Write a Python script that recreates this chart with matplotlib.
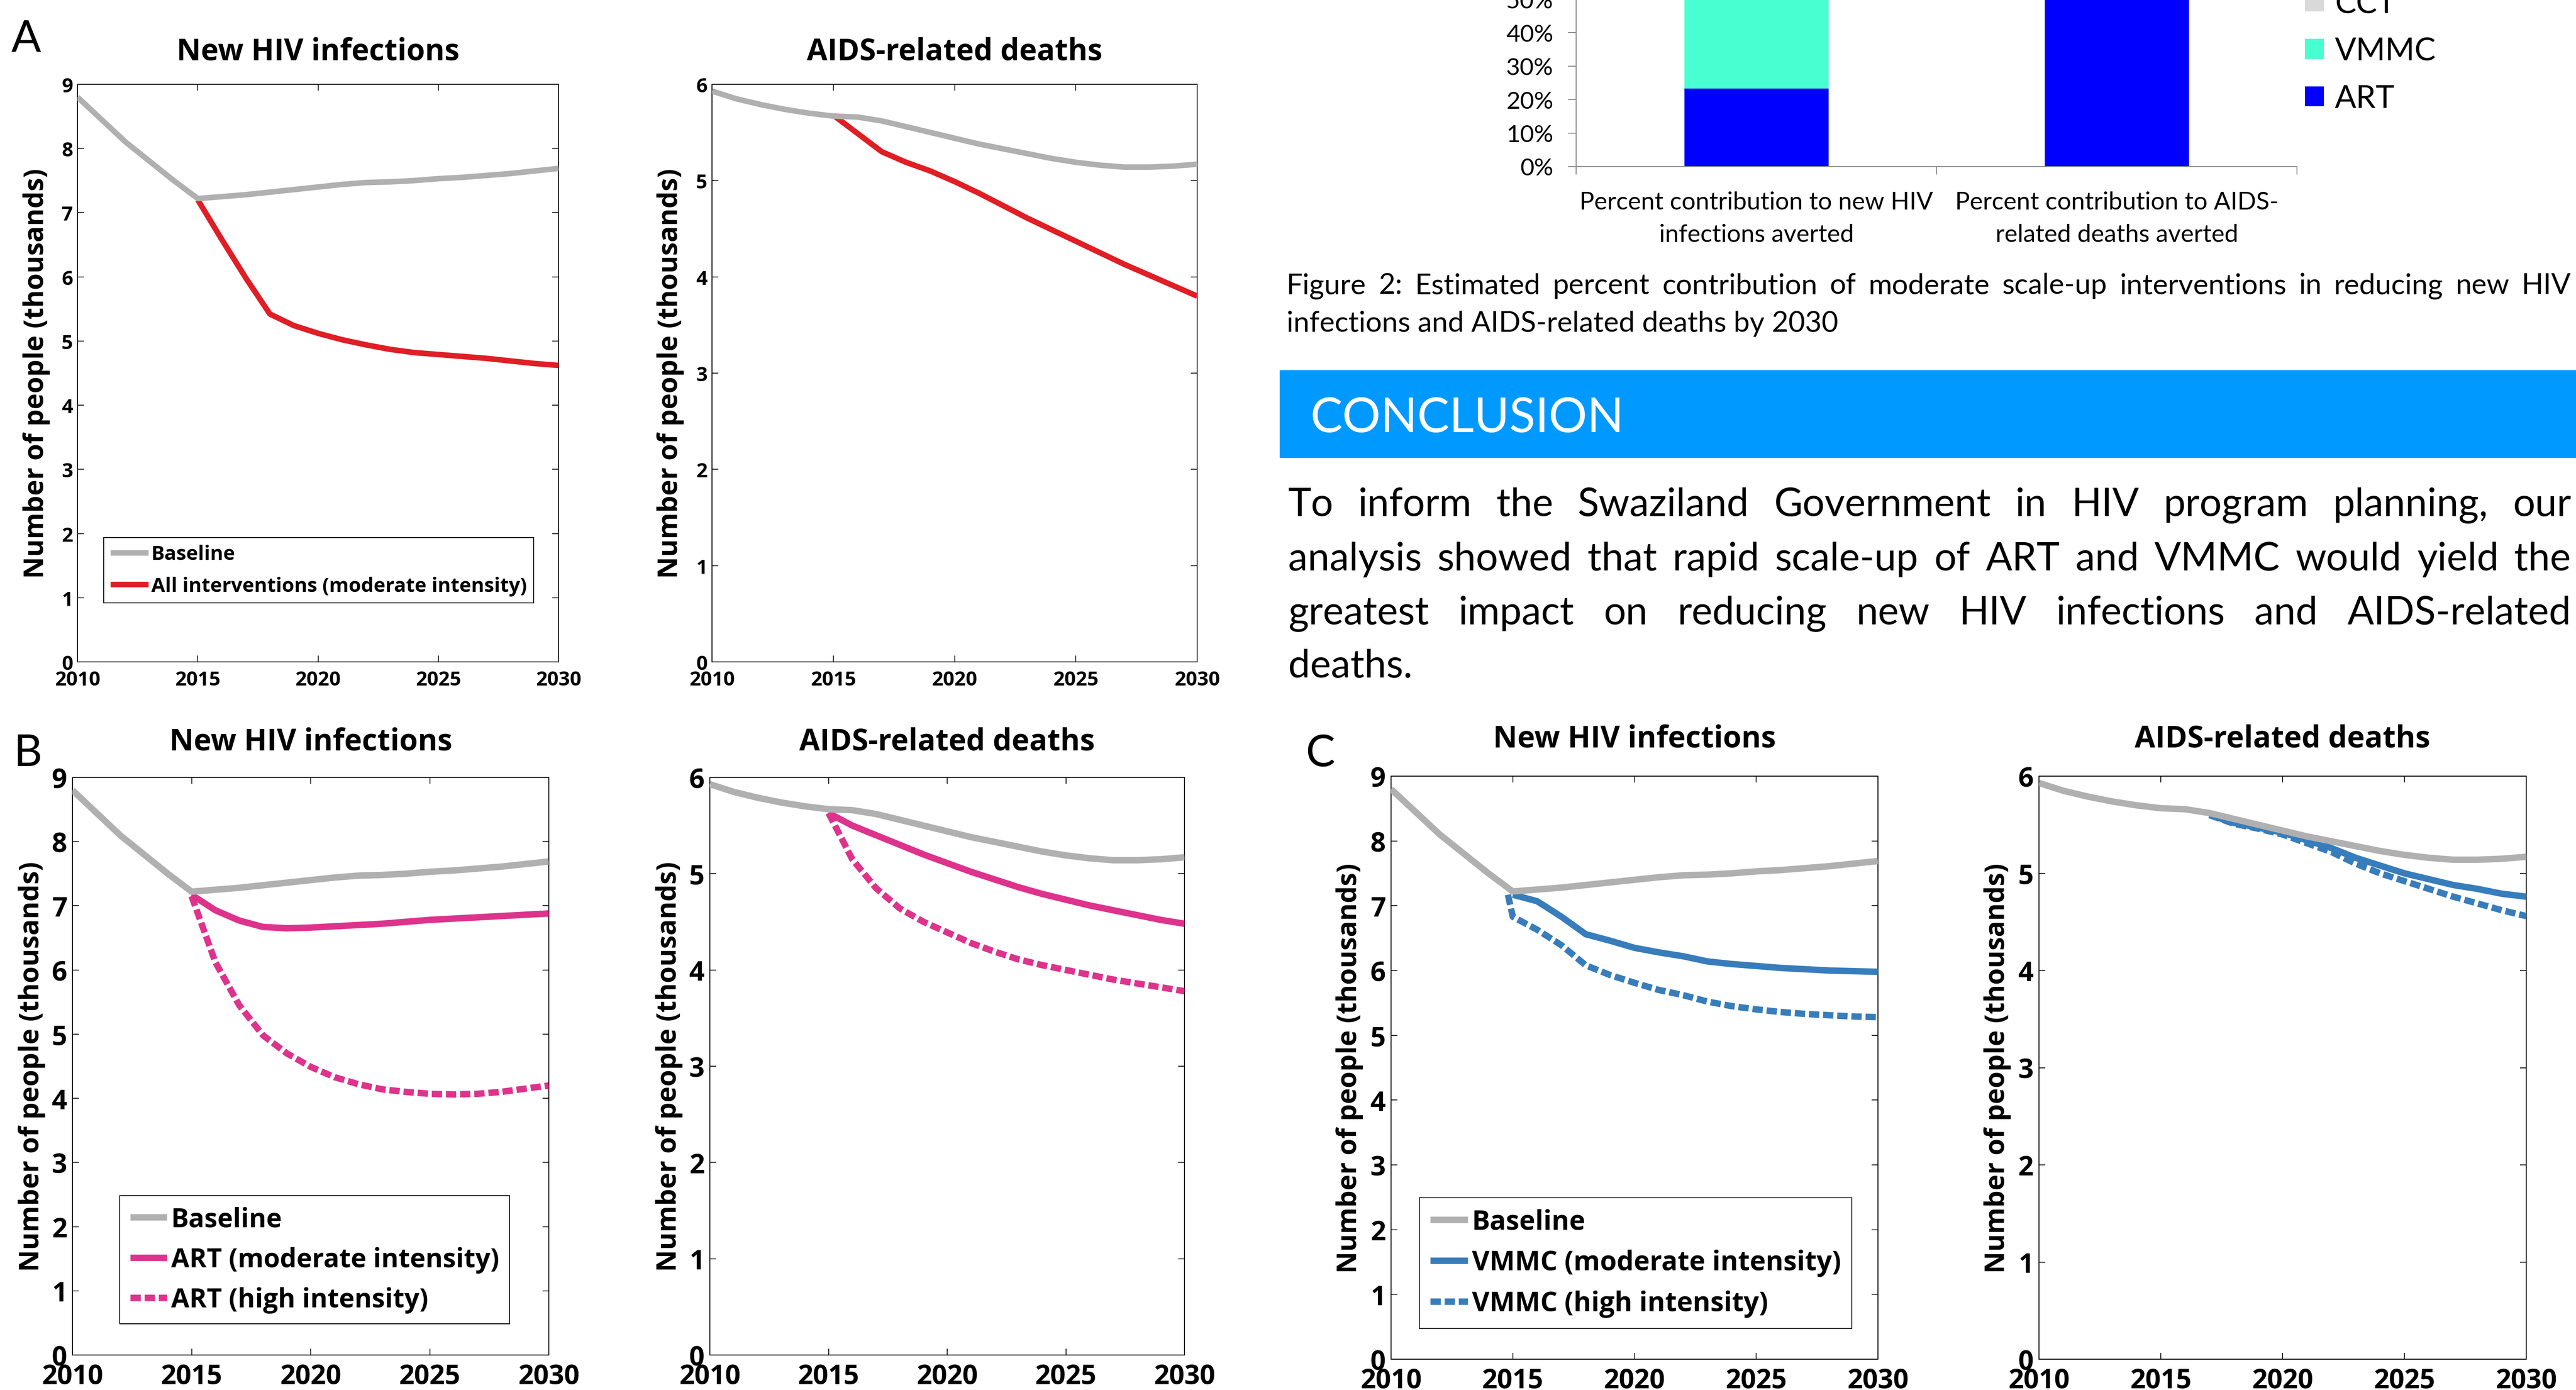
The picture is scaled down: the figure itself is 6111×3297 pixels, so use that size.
import numpy as np
import matplotlib
matplotlib.use("Agg")
import matplotlib.pyplot as plt
from matplotlib.patches import Rectangle
from matplotlib.ticker import PercentFormatter

W, H = 6111, 3298

# ==== Projection data (thousands of people) ====
years = np.arange(2010, 2031)
years_scaleup = np.arange(2015, 2031)
years_vmmc_high = np.concatenate([[2014.8], np.arange(2015, 2031)])
years_vmmc_deaths = np.arange(2017, 2031)

baseline_infections = [8.80, 8.45, 8.10, 7.80, 7.50, 7.22, 7.25, 7.28, 7.32, 7.36, 7.40,
                       7.44, 7.47, 7.48, 7.50, 7.53, 7.55, 7.58, 7.61, 7.65, 7.69]
baseline_deaths = [5.93, 5.85, 5.79, 5.74, 5.70, 5.67, 5.66, 5.62, 5.56, 5.50, 5.44,
                   5.38, 5.33, 5.28, 5.23, 5.19, 5.16, 5.14, 5.14, 5.15, 5.17]

all_moderate_infections = [7.20, 6.58, 5.98, 5.42, 5.24, 5.12, 5.02, 4.94, 4.87, 4.82,
                           4.79, 4.76, 4.73, 4.69, 4.65, 4.62]
all_moderate_deaths = [5.68, 5.49, 5.30, 5.19, 5.10, 4.99, 4.87, 4.74, 4.61, 4.49,
                       4.37, 4.25, 4.13, 4.02, 3.91, 3.80]

art_moderate_infections = [7.17, 6.93, 6.77, 6.67, 6.65, 6.66, 6.68, 6.70, 6.72, 6.75,
                           6.78, 6.80, 6.82, 6.84, 6.86, 6.88]
art_high_infections = [7.15, 6.12, 5.45, 4.98, 4.70, 4.49, 4.33, 4.22, 4.14, 4.10,
                       4.07, 4.06, 4.07, 4.10, 4.15, 4.20]
art_moderate_deaths = [5.63, 5.50, 5.40, 5.30, 5.20, 5.11, 5.02, 4.94, 4.86, 4.79,
                       4.73, 4.67, 4.62, 4.57, 4.52, 4.48]
art_high_deaths = [5.63, 5.15, 4.85, 4.64, 4.50, 4.39, 4.28, 4.19, 4.11, 4.05,
                   4.00, 3.95, 3.90, 3.86, 3.82, 3.78]

vmmc_moderate_infections = [7.17, 7.07, 6.83, 6.56, 6.46, 6.35, 6.28, 6.22, 6.14, 6.10,
                            6.07, 6.04, 6.02, 6.00, 5.99, 5.98]
vmmc_high_infections = [7.17, 6.83, 6.63, 6.39, 6.08, 5.93, 5.81, 5.70, 5.62, 5.52,
                        5.45, 5.40, 5.36, 5.33, 5.31, 5.29, 5.28]
vmmc_moderate_deaths = [5.60, 5.52, 5.47, 5.42, 5.34, 5.26, 5.16, 5.08, 5.00, 4.94,
                        4.88, 4.84, 4.79, 4.76]
vmmc_high_deaths = [5.60, 5.51, 5.46, 5.40, 5.31, 5.22, 5.10, 5.00, 4.92, 4.84,
                    4.76, 4.69, 4.62, 4.56]

# ==== Figure 2: share of averted outcomes ====
bar_categories = ["Percent contribution to new HIV\ninfections averted",
                  "Percent contribution to AIDS-\nrelated deaths averted"]
art_share = np.array([0.233, 0.93])
vmmc_share = np.array([0.62, 0.05])
cct_share = np.array([0.147, 0.02])

caption_lines = ["Figure 2: Estimated percent contribution of moderate scale-up interventions in reducing new HIV",
                 "infections and AIDS-related deaths by 2030"]
conclusion_lines = ["To inform the Swaziland Government in HIV program planning, our",
                    "analysis showed that rapid scale-up of ART and VMMC would yield the",
                    "greatest impact on reducing new HIV infections and AIDS-related",
                    "deaths."]

GRAY = "#b0b0b0"
RED = "#e01e25"
PINK = "#de338c"
BLUE = "#387dbb"
DASH = (0, (1.6, 0.6))

plt.rcParams["font.family"] = ["Open Sans", "DejaVu Sans"]

fig = plt.figure(figsize=(W / 100, H / 100), dpi=100)
fig.patch.set_facecolor("white")


def px_axes(left, right, top, bottom):
    return fig.add_axes([left / W, 1 - bottom / H, (right - left) / W, (bottom - top) / H])


def px_text(x, y, s, **kw):
    return fig.text(x / W, 1 - y / H, s, va="baseline", **kw)


def line_panel(ax, title, ymax, curves, tick_size, lw, xpad, ypad, title_pad,
               legend_at=None, legend_size=30, handlelength=2.0, labelspacing=0.4,
               borderpad=0.3):
    for i, (x, y, color, dashed, label) in enumerate(curves):
        ax.plot(x, y, color=color, lw=lw, ls=DASH if dashed else "-", label=label,
                zorder=4 if i == 0 else 3, solid_capstyle="butt", dash_capstyle="butt")
    ax.set_xlim(2010, 2030)
    ax.set_ylim(0, ymax)
    ax.set_xticks(range(2010, 2031, 5))
    ax.set_yticks(range(0, ymax + 1))
    ax.tick_params(direction="in", top=True, right=True, length=11, width=1.3,
                   labelsize=tick_size)
    ax.tick_params(axis="x", pad=xpad)
    ax.tick_params(axis="y", pad=ypad)
    for lab in ax.get_xticklabels() + ax.get_yticklabels():
        lab.set_fontweight("bold")
    for s in ax.spines.values():
        s.set_linewidth(1.5)
    ax.set_title(title, fontsize=51, fontweight="bold", pad=title_pad)
    ax.set_ylabel("Number of people (thousands)", fontsize=46, fontweight="bold")
    ax.yaxis.set_label_coords(-0.057, 0.5)
    if legend_at is not None:
        leg = ax.legend(loc="lower left", bbox_to_anchor=legend_at, borderaxespad=0,
                        prop={"size": legend_size, "weight": "bold"}, fancybox=False,
                        edgecolor="black", framealpha=1, handlelength=handlelength,
                        handletextpad=0.15, labelspacing=labelspacing, borderpad=borderpad)
        leg.get_frame().set_linewidth(1.5)


# ==== Panel A ====
ax = px_axes(184, 1325, 201, 1571)
line_panel(ax, "New HIV infections", 9,
           [(years, baseline_infections, GRAY, False, "Baseline"),
            (years_scaleup, all_moderate_infections, RED, False, "All interventions (moderate intensity)")],
           tick_size=34, lw=9.5, xpad=14, ypad=8, title_pad=42,
           legend_at=(0.054, 0.102), legend_size=34, handlelength=1.9, labelspacing=0.6,
           borderpad=0.35)

ax = px_axes(1689, 2840, 201, 1571)
line_panel(ax, "AIDS-related deaths", 6,
           [(years, baseline_deaths, GRAY, False, "Baseline"),
            (years_scaleup, all_moderate_deaths, RED, False, "All interventions (moderate intensity)")],
           tick_size=34, lw=9.5, xpad=14, ypad=8, title_pad=42)

# ==== Panel B ====
ax = px_axes(172, 1302, 1845, 3215)
line_panel(ax, "New HIV infections", 9,
           [(years, baseline_infections, GRAY, False, "Baseline"),
            (years_scaleup, art_moderate_infections, PINK, False, "ART (moderate intensity)"),
            (years_scaleup, art_high_infections, PINK, True, "ART (high intensity)")],
           tick_size=46, lw=11, xpad=14, ypad=9, title_pad=47,
           legend_at=(0.099, 0.054), legend_size=45, handlelength=1.4, labelspacing=0.52,
           borderpad=0.4)

ax = px_axes(1684, 2810, 1845, 3215)
line_panel(ax, "AIDS-related deaths", 6,
           [(years, baseline_deaths, GRAY, False, "Baseline"),
            (years_scaleup, art_moderate_deaths, PINK, False, "ART (moderate intensity)"),
            (years_scaleup, art_high_deaths, PINK, True, "ART (high intensity)")],
           tick_size=46, lw=11, xpad=14, ypad=9, title_pad=47)

# ==== Panel C ====
ax = px_axes(3300, 4455, 1842, 3225)
line_panel(ax, "New HIV infections", 9,
           [(years, baseline_infections, GRAY, False, "Baseline"),
            (years_scaleup, vmmc_moderate_infections, BLUE, False, "VMMC (moderate intensity)"),
            (years_vmmc_high, vmmc_high_infections, BLUE, True, "VMMC (high intensity)")],
           tick_size=46, lw=11, xpad=14, ypad=9, title_pad=50,
           legend_at=(0.058, 0.053), legend_size=46, handlelength=1.4, labelspacing=0.5,
           borderpad=0.4)

ax = px_axes(4837, 5993, 1842, 3225)
line_panel(ax, "AIDS-related deaths", 6,
           [(years, baseline_deaths, GRAY, False, "Baseline"),
            (years_vmmc_deaths, vmmc_moderate_deaths, BLUE, False, "VMMC (moderate intensity)"),
            (years_vmmc_deaths, vmmc_high_deaths, BLUE, True, "VMMC (high intensity)")],
           tick_size=46, lw=11, xpad=14, ypad=9, title_pad=50)

for letter, x, y in [("A", 27, 123), ("B", 33, 1817), ("C", 3098, 1818)]:
    px_text(x, y, letter, fontsize=75, family="Lato")

# ==== Stacked percent bars ====
axb = fig.add_axes([3739 / W, 1 - 396 / H, 1710 / W, 794 / H])
pos = np.arange(len(bar_categories))
axb.bar(pos, art_share, width=0.4, color="#0000ff", label="ART")
axb.bar(pos, vmmc_share, width=0.4, bottom=art_share, color="#48ffd2", label="VMMC")
axb.bar(pos, cct_share, width=0.4, bottom=art_share + vmmc_share, color="#d9d9d9", label="CCT")
axb.set_xlim(-0.5, 1.5)
axb.set_ylim(0, 1)
axb.set_yticks(np.arange(0, 1.01, 0.1))
axb.yaxis.set_major_formatter(PercentFormatter(1.0, decimals=0))
axb.set_xticks(pos)
axb.set_xticklabels(bar_categories, linespacing=1.55)
axb.set_xticks([-0.5, 0.5, 1.5], minor=True)
axb.tick_params(axis="x", which="major", length=0, pad=42, labelsize=42)
axb.tick_params(axis="x", which="minor", length=14, width=1.5, color="#868686", direction="out")
axb.tick_params(axis="y", length=14, width=1.5, color="#868686", labelsize=41, pad=25)
for lab in axb.get_xticklabels() + axb.get_yticklabels():
    lab.set_fontfamily("Lato")
for side in ["top", "right"]:
    axb.spines[side].set_visible(False)
for side in ["left", "bottom"]:
    axb.spines[side].set_color("#868686")
    axb.spines[side].set_linewidth(1.5)

handles, labels = axb.get_legend_handles_labels()
legb = axb.legend(handles[::-1], labels[::-1], loc="center left",
                  bbox_to_anchor=(5468 / W, 1 - 122 / H), bbox_transform=fig.transFigure,
                  borderaxespad=0, borderpad=0, frameon=False,
                  prop={"family": "Lato", "size": 54}, handlelength=0.6, handleheight=0.6,
                  handletextpad=0.35, labelspacing=0.58)


def justify(words, x0, x1, y, **kw):
    renderer = fig.canvas.get_renderer()
    texts = [px_text(0, y, w, **kw) for w in words]
    widths = [t.get_window_extent(renderer).width for t in texts]
    gap = (x1 - x0 - sum(widths)) / max(len(words) - 1, 1)
    x = x0
    for t, w in zip(texts, widths):
        t.set_position((x / W, 1 - y / H))
        x += w + gap


# ==== Caption and conclusion ====
justify(caption_lines[0].split(), 3052, 6099, 697, family="Lato", fontsize=49)
px_text(3052, 787, caption_lines[1], family="Lato", fontsize=49)

fig.patches.append(Rectangle((3036 / W, 1 - 1086 / H), (W - 3036) / W, 207 / H,
                             transform=fig.transFigure, color="#0099ff", zorder=0))
px_text(3109, 1025, "CONCLUSION", family="Lato", fontsize=82, color="white")

body_baselines = [1224, 1353, 1481, 1607]
for line, yb in zip(conclusion_lines[:-1], body_baselines[:-1]):
    justify(line.split(), 3056, 6099, yb, family="Lato", fontsize=67)
px_text(3056, body_baselines[-1], conclusion_lines[-1], family="Lato", fontsize=67)

fig.savefig("out.png", dpi=100)
